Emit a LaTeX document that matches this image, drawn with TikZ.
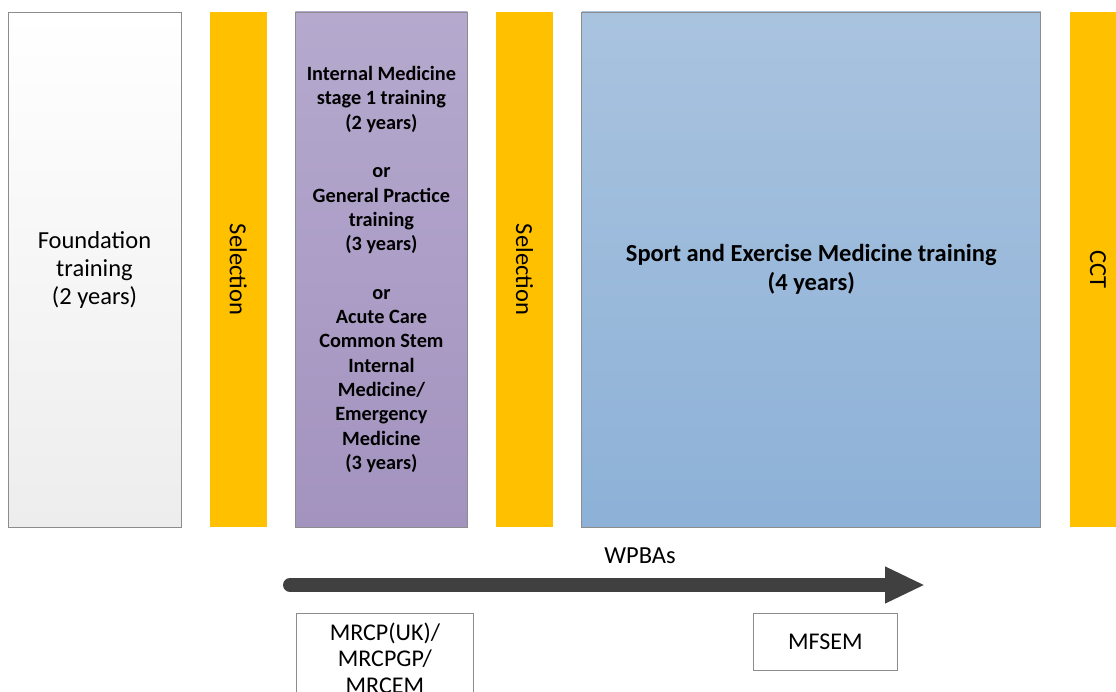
\documentclass[tikz,border=0pt]{standalone}
\usepackage{fontspec}
\setmainfont{Carlito}
\usetikzlibrary{arrows.meta, positioning}
\definecolor{selorange}{HTML}{FFC000}
\definecolor{darkgrey}{HTML}{404040}
\definecolor{boxedge}{HTML}{8C8C8C}
\definecolor{foundgrey}{HTML}{EDEDED}
\definecolor{purpletop}{HTML}{B5A9CE}
\definecolor{purplebot}{HTML}{A393BF}
\definecolor{bluetop}{HTML}{A9C3DF}
\definecolor{bluebot}{HTML}{8DB1D7}

\begin{document}
\begin{tikzpicture}[
      node distance=28.7pt,
      stage/.style={rectangle, draw=boxedge, line width=0.8pt, minimum height=515pt,
                    align=center, inner sep=0pt, outer sep=0pt},
      bar/.style={rectangle, fill=selorange, minimum width=57pt, minimum height=515pt,
                  inner sep=0pt, outer sep=0pt, font=\fontsize{24.5}{28}\selectfont},
      exam/.style={rectangle, draw=boxedge, fill=white, line width=0.8pt, align=center,
                   inner sep=0pt, font=\fontsize{24}{26.5}\selectfont},
      arrow/.style={-{Triangle[length=40pt, width=34pt]}, line width=14pt, line cap=round, darkgrey}
    ]
    \useasboundingbox (0,0) rectangle (1116pt,-692pt);

    % training stages
    \node[stage, anchor=north west, minimum width=173pt, top color=white, bottom color=foundgrey,
          font=\fontsize{24.5}{28}\selectfont] (found) at (8pt,-12pt)
          {Foundation\\training\\(2 years)};
    \node[bar, right=of found] (sel1) {\rotatebox{-90}{Selection}};
    \node[stage, right=of sel1, minimum width=172pt, top color=purpletop, bottom color=purplebot,
          font=\bfseries\fontsize{20.3}{24.3}\selectfont] (core)
          {Internal Medicine\\stage 1 training\\(2 years)\\[24.3pt]or\\General Practice\\training\\(3 years)\\[24.3pt]or\\Acute Care\\Common Stem\\Internal\\Medicine/\\Emergency\\Medicine\\(3 years)};
    \node[bar, right=of core] (sel2) {\rotatebox{-90}{Selection}};
    \node[stage, right=of sel2, minimum width=459pt, top color=bluetop, bottom color=bluebot,
          font=\bfseries\fontsize{24.5}{29}\selectfont] (sem)
          {Sport and Exercise Medicine training\\(4 years)};
    \node[bar, right=of sem] (cct) {\rotatebox{-90}{CCT}};

    % assessments
    \coordinate (wstart) at (290pt,-585pt);
    \coordinate (wend) at (925pt,-585pt);
    \draw[arrow] (wstart) -- (wend);
    \node[font=\fontsize{24.5}{28}\selectfont] (wpba) at (640pt,-556pt) {WPBAs};

    \node[exam, anchor=north west, minimum width=177pt, minimum height=89pt] (mrcp) at (296pt,-613pt)
          {MRCP(UK)/\\MRCPGP/\\MRCEM};
    \node[exam, anchor=north west, minimum width=144pt, minimum height=57pt] (mfsem) at (753pt,-613pt)
          {MFSEM};
  \end{tikzpicture}
\end{document}
